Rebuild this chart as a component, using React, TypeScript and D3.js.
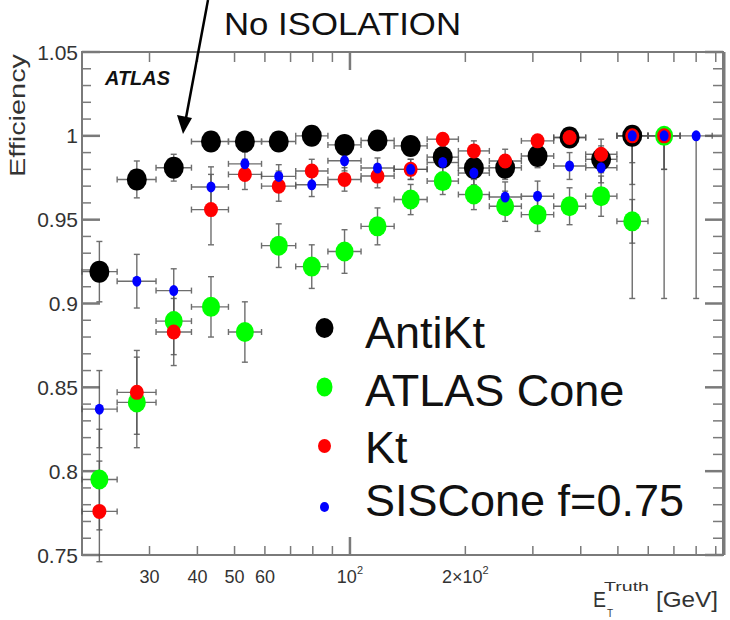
import React from 'react';
import * as d3 from 'd3';

// bin edges and centres (GeV)
const binEdges = [20, 24.7, 31.2, 38.6, 48.2, 58.8, 72.2, 87.6, 106.9, 130.4, 159, 191.8, 231, 280, 340, 412, 497, 599, 727, 881];
const binCenters = [22.2, 27.8, 34.7, 43.4, 53.2, 65.2, 79.5, 96.8, 118, 144, 174.6, 210.5, 254, 308.6, 374, 452, 545, 660, 800];

const antiKt = [0.919, 0.974, 0.981, 0.9966, 0.9966, 0.9966, 1.0, 0.9946, 0.9972, 0.994, 0.9873, 0.9808, 0.981, 0.988, 0.999, 0.986, 1.0, null, null];
const antiKtErr = [0.018, 0.011, 0.008, 0.004, 0.004, 0.004, 0.003, 0.006, 0.004, 0.005, 0.006, 0.006, 0.007, 0.007, 0.003, 0.008, 0.016, 0, 0];

const atlasCone = [0.795, 0.841, 0.8895, 0.898, 0.883, 0.9345, 0.922, 0.931, 0.946, 0.962, 0.973, 0.965, 0.958, 0.953, 0.958, 0.964, 0.949, 1.0, null];
const atlasConeErr = [0.03, 0.027, 0.02, 0.018, 0.018, 0.013, 0.013, 0.013, 0.011, 0.009, 0.008, 0.009, 0.009, 0.01, 0.011, 0.012, 0.013, 0.02, 0];

const kt = [0.776, 0.847, 0.883, 0.956, 0.977, 0.97, 0.979, 0.974, 0.976, 0.98, 0.998, 0.991, 0.985, 0.997, 0.999, 0.989, 1.0, 1.0, null];
const ktErr = [0.03, 0.025, 0.02, 0.021, 0.009, 0.009, 0.007, 0.007, 0.007, 0.006, 0.004, 0.006, 0.007, 0.004, 0.003, 0.009, 0.029, 0.02, 0];

const sisCone = [0.837, 0.9133, 0.9077, 0.9695, 0.9833, 0.9758, 0.9708, 0.9851, 0.9808, 0.98, 0.9841, 0.9778, 0.9635, 0.964, 0.982, 0.981, 1.0, 1.0, 1.0];
const sisConeErr = [0.023, 0.016, 0.013, 0.012, 0.007, 0.007, 0.007, 0.006, 0.006, 0.006, 0.006, 0.007, 0.009, 0.009, 0.008, 0.009, 0.097, 0.097, 0.097];

const yMajor = [0.75, 0.8, 0.85, 0.9, 0.95, 1, 1.05];
const yLabels = ['0.75', '0.8', '0.85', '0.9', '0.95', '1', '1.05'];
const xMinor = [30, 40, 50, 60, 70, 80, 90, 200, 300, 400, 500, 600, 700, 800, 900];
const xPlainLabels = [30, 40, 50, 60];

const series = [
  { name: 'AntiKt', color: '#000000', values: antiKt, errs: antiKtErr, rx: 10, ry: 11 },
  { name: 'ATLAS Cone', color: '#00ff00', values: atlasCone, errs: atlasConeErr, rx: 9, ry: 10 },
  { name: 'Kt', color: '#ff0000', values: kt, errs: ktErr, rx: 7, ry: 7.5 },
  { name: 'SISCone f=0.75', color: '#0000ff', values: sisCone, errs: sisConeErr, rx: 4.5, ry: 5.5 },
];

const legendSizes = [
  { rx: 9, ry: 10 },
  { rx: 8, ry: 9.5 },
  { rx: 6.5, ry: 7 },
  { rx: 4.5, ry: 5 },
];

export default function App() {
  const width = 730;
  const height = 620;
  const left = 82, right = 723, top = 52, bottom = 555;

  const x = d3.scaleLog().domain([20, 940]).range([left, right]);
  const y = d3.scaleLinear().domain([0.75, 1.05]).range([bottom, top]);

  const yMinor = d3.range(75, 106).map((v) => v / 100);
  const axisGray = '#7a7a7a';
  const textGray = '#333';
  const errColor = '#555';
  const cap = 3;

  return (
    <svg width={width} height={height} style={{ position: 'absolute', left: 0, top: 0, background: '#fff' }}
      fontFamily="'Liberation Sans', Arial, sans-serif">
      <rect width={width} height={height} fill="#fff" />

      {/* y ticks, both sides */}
      {yMinor.map((v) => {
        const major = Math.round(v * 100) % 5 === 0;
        const yy = y(v);
        return (
          <g key={'yt' + v} stroke={axisGray} strokeWidth={major ? 2.5 : 1.5}>
            <line x1={left} x2={left + (major ? 18 : 9)} y1={yy} y2={yy} />
            <line x1={right} x2={right - (major ? 18 : 10)} y1={yy} y2={yy} />
          </g>
        );
      })}

      {/* x ticks, top and bottom */}
      {xMinor.map((v) => (
        <g key={'xt' + v} stroke={axisGray} strokeWidth={1.5}>
          <line x1={x(v)} x2={x(v)} y1={bottom} y2={bottom - 9} />
          <line x1={x(v)} x2={x(v)} y1={top} y2={top + 10} />
        </g>
      ))}
      <g stroke={axisGray} strokeWidth={2.5}>
        <line x1={x(100)} x2={x(100)} y1={bottom} y2={bottom - 18} />
        <line x1={x(100)} x2={x(100)} y1={top} y2={top + 18} />
      </g>

      {/* frame */}
      <rect x={left} y={top} width={right - left} height={bottom - top} fill="none" stroke={axisGray} strokeWidth={2} />
      <line x1={right + 1} x2={right + 1} y1={top} y2={bottom} stroke={axisGray} strokeWidth={3} />

      {/* y labels */}
      {yMajor.map((v, i) => (
        <text key={'yl' + v} x={78} y={y(v) + 7.5} textAnchor="end" fontSize={21} fill={textGray}>
          {yLabels[i]}
        </text>
      ))}

      {/* x labels */}
      {xPlainLabels.map((v) => (
        <text key={'xl' + v} x={x(v)} y={583} textAnchor="middle" fontSize={18} fill={textGray}>
          {v}
        </text>
      ))}
      <text x={x(100)} y={583} textAnchor="middle" fontSize={18} fill={textGray}>
        10<tspan dy={-9} fontSize={11}>2</tspan>
      </text>
      <text x={x(200)} y={583} textAnchor="middle" fontSize={18} fill={textGray}>
        2×10<tspan dy={-9} fontSize={11}>2</tspan>
      </text>

      {/* axis titles */}
      <text x={593} y={607} fontSize={22} fill={textGray} textLength={13} lengthAdjust="spacingAndGlyphs">E</text>
      <text x={604} y={591} fontSize={12} fill={textGray} textLength={45} lengthAdjust="spacingAndGlyphs">Truth</text>
      <text x={607} y={617} fontSize={10} fill={textGray}>T</text>
      <text x={656} y={607} fontSize={22} fill={textGray} textLength={62} lengthAdjust="spacingAndGlyphs">[GeV]</text>

      <text transform="translate(25,177) rotate(-90)" fontSize={22} fill={textGray} textLength={123} lengthAdjust="spacingAndGlyphs">
        Efficiency
      </text>

      <text x={105} y={85} fontSize={19.5} fontWeight="bold" fontStyle="italic" fill="#111" textLength={65} lengthAdjust="spacingAndGlyphs">
        ATLAS
      </text>

      {/* error bars */}
      {series.map((s) => (
        <g key={'err' + s.name} stroke={errColor} strokeWidth={1.4} opacity={0.85}>
          {s.values.map((v, i) => {
            if (v === null) return null;
            const cx = x(binCenters[i]);
            const cy = y(v);
            const x0 = x(binEdges[i]);
            const x1 = x(binEdges[i + 1]);
            const yLo = y(v - s.errs[i]);
            const yHi = y(Math.min(v + s.errs[i], 1));
            return (
              <g key={i}>
                <line x1={x0} x2={x1} y1={cy} y2={cy} />
                <line x1={x0} x2={x0} y1={cy - cap} y2={cy + cap} />
                <line x1={x1} x2={x1} y1={cy - cap} y2={cy + cap} />
                <line x1={cx} x2={cx} y1={yLo} y2={yHi} />
                <line x1={cx - cap} x2={cx + cap} y1={yLo} y2={yLo} />
                <line x1={cx - cap} x2={cx + cap} y1={yHi} y2={yHi} />
              </g>
            );
          })}
        </g>
      ))}

      {/* markers */}
      {series.map((s) => (
        <g key={'mk' + s.name} fill={s.color}>
          {s.values.map((v, i) =>
            v === null ? null : (
              <ellipse key={i} cx={x(binCenters[i])} cy={y(v)} rx={s.rx} ry={s.ry} />
            )
          )}
        </g>
      ))}

      {/* legend */}
      {series.map((s, i) => {
        const rowY = [328, 387, 446, 507][i];
        const baseY = [348, 406, 463, 516][i];
        return (
          <g key={'lg' + s.name}>
            <ellipse cx={324.5} cy={rowY} rx={legendSizes[i].rx} ry={legendSizes[i].ry} fill={s.color} />
            <text x={365} y={baseY} fontSize={45} fill="#111">{s.name}</text>
          </g>
        );
      })}

      {/* annotation */}
      <text x={224} y={35} fontSize={31} fill="#111" textLength={237} lengthAdjust="spacingAndGlyphs">No ISOLATION</text>
      <line x1={208} y1={0} x2={186} y2={118} stroke="#000" strokeWidth={2.5} />
      <path d="M183,134 L177,115 L192,118 Z" fill="#000" />
    </svg>
  );
}
